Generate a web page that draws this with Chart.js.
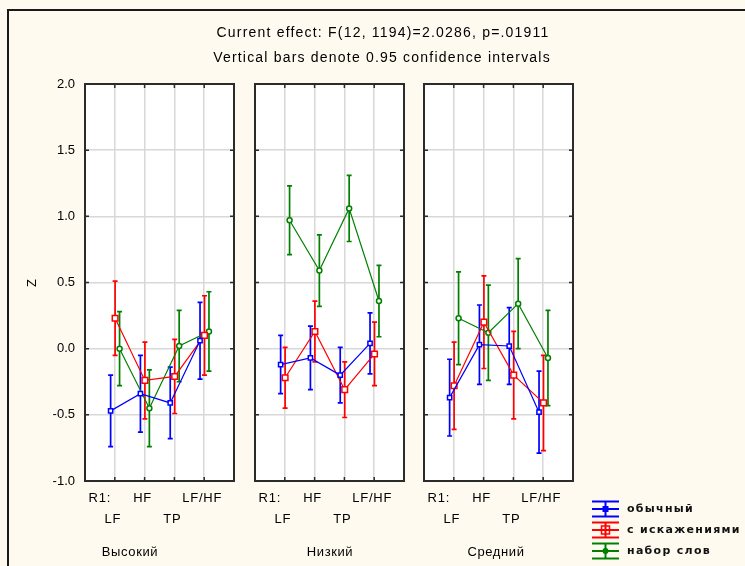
<!DOCTYPE html>
<html>
<head>
<meta charset="utf-8">
<script src="https://cdn.jsdelivr.net/npm/chart.js@4.4.1/dist/chart.umd.min.js"></script>
<style>
html, body { margin: 0; padding: 0; background: #fffaf0; }
#wrap { position: relative; width: 745px; height: 566px; overflow: hidden; }
#wrap canvas { position: absolute; left: 0; top: 0; }
</style>
</head>
<body>
<div id="wrap">
    <canvas id="c0" width="745" height="566"></canvas>
    <canvas id="c1" width="745" height="566"></canvas>
    <canvas id="c2" width="745" height="566"></canvas>
</div>
<script>
// --- data ---
const panelNames = ['Высокий', 'Низкий', 'Средний'];
const categories = ['LF', 'HF', 'TP', 'LF/HF'];
const factorName = 'R1:';
const seriesNames = ['обычный', 'с искажениями', 'набор слов'];
const yTicks = [-1.0, -0.5, 0.0, 0.5, 1.0, 1.5, 2.0];

// means per panel (Высокий, Низкий, Средний), 4 categories each
const meanObychny = [[-0.47, -0.34, -0.41, 0.06], [-0.12, -0.07, -0.20, 0.04], [-0.37, 0.03, 0.02, -0.48]];
const meanIskazh = [[0.23, -0.24, -0.21, 0.10], [-0.22, 0.13, -0.31, -0.04], [-0.28, 0.20, -0.20, -0.41]];
const meanNabor = [[0.00, -0.45, 0.02, 0.13], [0.97, 0.59, 1.06, 0.36], [0.23, 0.12, 0.34, -0.07]];

// half widths of the 0.95 confidence intervals
const ciObychny = [[0.27, 0.29, 0.27, 0.29], [0.22, 0.24, 0.21, 0.23], [0.29, 0.30, 0.29, 0.31]];
const ciIskazh = [[0.28, 0.29, 0.28, 0.30], [0.23, 0.23, 0.21, 0.24], [0.33, 0.35, 0.33, 0.36]];
const ciNabor = [[0.28, 0.29, 0.27, 0.30], [0.26, 0.27, 0.25, 0.27], [0.35, 0.36, 0.34, 0.36]];

const means = [meanObychny, meanIskazh, meanNabor];
const cis = [ciObychny, ciIskazh, ciNabor];

// --- styling / layout ---
const seriesStyle = [
    { color: '#0000ff', shift: -0.14, pointStyle: 'rect', radius: 3 },
    { color: '#ff0000', shift: 0.01, pointStyle: 'rect', radius: 4 },
    { color: '#008000', shift: 0.16, pointStyle: 'circle', radius: 2.5 }
];
const panelLeft = [85, 255, 424];
const panelWidth = 149;
const panelTop = 84;
const panelBottom = 481;
const panelLabelX = [130, 330, 496];
const FONT = '"Liberation Sans", Arial, sans-serif';

function drawPanelExtras(chart, idx) {
    const ctx = chart.ctx;
    const area = chart.chartArea;
    const xs = chart.scales.x;
    const ys = chart.scales.y;
    ctx.save();
    // frame
    ctx.strokeStyle = '#2b2b2b';
    ctx.lineWidth = 2;
    ctx.strokeRect(area.left, area.top, area.right - area.left, area.bottom - area.top);
    // small inner ticks
    ctx.lineWidth = 1.5;
    ctx.beginPath();
    yTicks.slice(1, -1).forEach(v => {
        const py = ys.getPixelForValue(v);
        ctx.moveTo(area.left, py); ctx.lineTo(area.left + 4, py);
        ctx.moveTo(area.right, py); ctx.lineTo(area.right - 4, py);
    });
    categories.forEach((c, i) => {
        const px = xs.getPixelForValue(i + 1);
        ctx.moveTo(px, area.top); ctx.lineTo(px, area.top + 4);
        ctx.moveTo(px, area.bottom); ctx.lineTo(px, area.bottom - 4);
    });
    ctx.stroke();

    // category labels, staggered in two rows
    ctx.fillStyle = '#000';
    ctx.font = '13px ' + FONT;
    ctx.letterSpacing = '0.8px';
    ctx.textAlign = 'center';
    ctx.textBaseline = 'middle';
    categories.forEach((c, i) => {
        const px = xs.getPixelForValue(i + 1) - 2;
        const py = i % 2 === 0 ? 519 : 498;
        ctx.fillText(c, px, py);
    });
    ctx.fillText(factorName, xs.getPixelForValue(1) - 15, 498);

    ctx.letterSpacing = '0.6px';
    ctx.fillText(panelNames[idx], panelLabelX[idx], 552);
    ctx.restore();
}

function drawErrorBars(chart) {
    const ctx = chart.ctx;
    const xs = chart.scales.x;
    const ys = chart.scales.y;
    ctx.save();
    chart.data.datasets.forEach(ds => {
        ctx.strokeStyle = ds.borderColor;
        ctx.lineWidth = 1.7;
        ctx.beginPath();
        ds.data.forEach((p, i) => {
            const px = xs.getPixelForValue(p.x);
            const top = ys.getPixelForValue(p.y + ds.ci[i]);
            const bot = ys.getPixelForValue(p.y - ds.ci[i]);
            ctx.moveTo(px, top); ctx.lineTo(px, bot);
            ctx.moveTo(px - 2.5, top); ctx.lineTo(px + 2.5, top);
            ctx.moveTo(px - 2.5, bot); ctx.lineTo(px + 2.5, bot);
        });
        ctx.stroke();
    });
    ctx.restore();
}

function drawPageText(chart) {
    const ctx = chart.ctx;
    ctx.save();
    // outer frame (only left and top visible)
    ctx.strokeStyle = '#1a1a1a';
    ctx.lineWidth = 2;
    ctx.beginPath();
    ctx.moveTo(8, 566); ctx.lineTo(8, 10); ctx.lineTo(745, 10);
    ctx.stroke();

    ctx.fillStyle = '#000';
    ctx.textAlign = 'center';
    ctx.textBaseline = 'middle';
    ctx.font = '14px ' + FONT;
    ctx.letterSpacing = '1.2px';
    ctx.fillText('Current effect: F(12, 1194)=2.0286, p=.01911', 383, 33);
    ctx.fillText('Vertical bars denote 0.95 confidence intervals', 382, 58);

    ctx.translate(32, 283);
    ctx.rotate(-Math.PI / 2);
    ctx.font = '13px ' + FONT;
    ctx.letterSpacing = '0px';
    ctx.fillText('Z', 0, 0);
    ctx.restore();

    // legend
    ctx.save();
    seriesNames.forEach((name, i) => {
        const st = seriesStyle[i];
        const cy = 509 + 21 * i;
        const x0 = 592, x1 = 619, cx = 605.5;
        ctx.strokeStyle = st.color;
        ctx.lineWidth = 2;
        ctx.beginPath();
        ctx.moveTo(x0, cy - 7.5); ctx.lineTo(x1, cy - 7.5);
        ctx.moveTo(x0, cy + 7.5); ctx.lineTo(x1, cy + 7.5);
        ctx.moveTo(x0, cy); ctx.lineTo(x1, cy);
        ctx.moveTo(cx, cy - 7.5); ctx.lineTo(cx, cy + 7.5);
        ctx.stroke();
        ctx.fillStyle = st.color;
        if (i === 0) {
            ctx.fillRect(cx - 3, cy - 3, 6, 6);
        } else if (i === 1) {
            ctx.lineWidth = 1.5;
            ctx.strokeRect(cx - 4, cy - 4, 8, 8);
        } else {
            ctx.beginPath();
            ctx.arc(cx, cy, 3, 0, Math.PI * 2);
            ctx.fill();
        }
        ctx.fillStyle = '#111';
        ctx.font = 'bold 11px "DejaVu Sans", sans-serif';
        ctx.letterSpacing = '1.3px';
        ctx.textAlign = 'left';
        ctx.textBaseline = 'middle';
        ctx.fillText(name, 627, cy);
    });
    ctx.restore();
}

function createPanel(idx) {
    const ctx = document.getElementById('c' + idx).getContext('2d');
    const left = panelLeft[idx];
    const right = left + panelWidth;
    const datasets = seriesNames.map((name, si) => ({
        label: name,
        data: means[si][idx].map((v, ci) => ({ x: ci + 1 + seriesStyle[si].shift, y: v })),
        ci: cis[si][idx],
        borderColor: seriesStyle[si].color,
        backgroundColor: '#ffffff',
        borderWidth: 1.2,
        pointStyle: seriesStyle[si].pointStyle,
        pointRadius: seriesStyle[si].radius,
        pointBorderWidth: 1.5,
        pointBorderColor: seriesStyle[si].color,
        pointBackgroundColor: '#ffffff',
        tension: 0,
        fill: false
    }));

    return new Chart(ctx, {
        type: 'line',
        data: { datasets: datasets },
        options: {
            responsive: false,
            animation: false,
            events: [],
            layout: {
                padding: { left: left - 60, right: 745 - right, top: panelTop, bottom: 566 - panelBottom - 50 }
            },
            plugins: {
                legend: { display: false },
                tooltip: { enabled: false }
            },
            scales: {
                x: {
                    type: 'linear',
                    min: 0,
                    max: 5,
                    afterBuildTicks: scale => { scale.ticks = [0, 1, 2, 3, 4, 5].map(v => ({ value: v })); },
                    afterFit: scale => { scale.height = 50; },
                    ticks: { display: false },
                    grid: { color: '#d8d8d8', lineWidth: 1.5, drawTicks: false },
                    border: { display: false }
                },
                y: {
                    min: -1,
                    max: 2,
                    afterBuildTicks: scale => { scale.ticks = yTicks.map(v => ({ value: v })); },
                    afterFit: scale => { scale.width = 60; },
                    ticks: {
                        display: idx === 0,
                        padding: 10,
                        color: '#000',
                        font: { family: FONT, size: 13 },
                        callback: v => v.toFixed(1)
                    },
                    grid: { color: '#d8d8d8', lineWidth: 1.5, drawTicks: false },
                    border: { display: false }
                }
            }
        },
        plugins: [{
            id: 'panelDecor',
            beforeDraw(chart) {
                const c = chart.ctx;
                const a = chart.chartArea;
                if (idx === 0) {
                    c.save();
                    c.fillStyle = '#fffaf0';
                    c.fillRect(0, 0, chart.width, chart.height);
                    c.restore();
                    drawPageText(chart);
                }
                c.save();
                c.fillStyle = '#ffffff';
                c.fillRect(a.left, a.top, a.right - a.left, a.bottom - a.top);
                c.restore();
            },
            beforeDatasetsDraw(chart) { drawErrorBars(chart); },
            afterDraw(chart) { drawPanelExtras(chart, idx); }
        }]
    });
}

panelNames.forEach((p, i) => createPanel(i));
</script>
</body>
</html>
